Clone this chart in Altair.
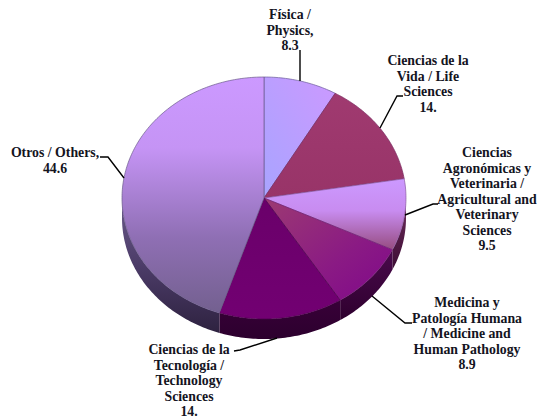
import math
import altair as alt
import pandas as pd

names = ["Física", "Vida", "Agronómicas", "Medicina", "Tecnología", "Otros"]
values = [8.3, 14.0, 9.5, 8.9, 14.0, 44.6]

top_stops = [
    [("#a8a4ff", 0), ("#cc99ff", 1)],
    [("#a03a70", 0), ("#983468", 1)],
    [("#cc99ff", 0), ("#c88cf0", .45), ("#964c80", 1)],
    [("#9c3a72", 0), ("#8a1a84", .6), ("#80088a", 1)],
    [("#6a006a", 0), ("#720072", 1)],
    [("#cc99ff", 0), ("#c594f5", .3), ("#8f6fb4", .68), ("#73608f", 1)],
]
top_dirs = [(0, 1, 1, 0), (0, 0, 0, 1), (0, 0, 0, 1), (0, 0, 1, 1), (0, 0, 0, 1), (0, 0, 0, 1)]
side_stops = [
    [("#555555", 0), ("#555555", 1)],
    [("#5c2040", 0), ("#5c2040", 1)],
    [("#6e2e5c", 0), ("#3c0c34", 1)],
    [("#4a0a4c", 0), ("#2e002e", 1)],
    [("#380038", 0), ("#2c002e", 1)],
    [("#6a5a8a", 0), ("#4c3c68", .5), ("#2e2240", 1)],
]
side_dirs = [(0, 0, 0, 1)] * 6
edge_colors = ["#6a5a9a", "#7a2a60", "#8a5aa0", "#6e1a6e", "#4a004a", "#6a5a8a"]

# labels, one text row per line
label_lines = [
    ["Física /", "Physics,", "8.3"],
    ["Ciencias de la", "Vida / Life", "Sciences", "14."],
    ["Ciencias", "Agronómicas y", "Veterinaria /", "Agricultural and", "Veterinary", "Sciences", "9.5"],
    ["Medicina y", "Patología Humana", "/ Medicine and", "Human Pathology", "8.9"],
    ["Ciencias de la", "Tecnología /", "Technology", "Sciences", "14."],
    ["Otros / Others,", "44.6"],
]
label_centres = [290, 428, 487, 467, 189, 55]
label_tops = [15, 61, 153, 303, 350, 153]
line_gap = 15.5
leaders = [
    [(300, 50), (300, 81)],
    [(403, 96), (397, 96), (380, 128)],
    [(438, 204), (433, 204), (405, 215)],
    [(412, 323), (405, 323), (372, 296)],
    [(234, 351), (240, 350), (277, 338)],
    [(100, 157), (108, 157), (124, 178)],
]

CX, CY, RX, RY, DEPTH = 264, 198, 142, 121, 20
W, H = 529, 410
total = sum(values)

x_scale = alt.Scale(domain=[8, 8 + W], range=[0, W], nice=False, zero=False)
y_scale = alt.Scale(domain=[8, 8 + H], range=[0, H], nice=False, zero=False)


def pt(deg, dy=0):
    t = math.radians(deg)
    return CX + RX * math.sin(t), CY - RY * math.cos(t) + dy


def arc(a, b):
    n = max(2, int(abs(b - a)) + 2)
    return [a + (b - a) * i / (n - 1) for i in range(n)]


def gradient(stops, d):
    return alt.LinearGradient(
        gradient="linear", x1=d[0], y1=d[1], x2=d[2], y2=d[3],
        stops=[alt.GradientStop(color=c, offset=o) for c, o in stops],
    )


def poly(points, fill, stroke=None, sw=0.7):
    df = pd.DataFrame(points, columns=["x", "y"])
    df["i"] = range(len(df))
    kw = {"fill": fill, "strokeWidth": sw, "clip": False}
    kw["stroke"] = stroke if stroke else "transparent"
    return alt.Chart(df).mark_line(**kw).encode(
        x=alt.X("x:Q", scale=x_scale, axis=None),
        y=alt.Y("y:Q", scale=y_scale, axis=None),
        order="i:Q",
    )


layers = []
bounds = []
acc = 0
for v in values:
    bounds.append((acc / total * 360, (acc + v) / total * 360))
    acc += v

for k, (a, b) in enumerate(bounds):
    lo, hi = max(a, 90), min(b, 270)
    if lo < hi:
        front = [pt(d) for d in arc(lo, hi)]
        back = [pt(d, DEPTH) for d in arc(hi, lo)]
        pts = front + back + [front[0]]
        layers.append(poly(pts, gradient(side_stops[k], side_dirs[k])))

for k, (a, b) in enumerate(bounds):
    pts = [(CX, CY)] + [pt(d) for d in arc(a, b)] + [(CX, CY)]
    layers.append(poly(pts, gradient(top_stops[k], top_dirs[k]), edge_colors[k]))

for seg in leaders:
    df = pd.DataFrame(seg, columns=["x", "y"])
    df["i"] = range(len(df))
    layers.append(
        alt.Chart(df).mark_line(color="#000000", strokeWidth=1.4).encode(
            x=alt.X("x:Q", scale=x_scale, axis=None),
            y=alt.Y("y:Q", scale=y_scale, axis=None),
            order="i:Q",
        )
    )

rows = []
for lines, cx, top in zip(label_lines, label_centres, label_tops):
    for j, line in enumerate(lines):
        rows.append({"t": line, "x": cx, "y": top + j * line_gap})
layers.append(
    alt.Chart(pd.DataFrame(rows)).mark_text(
        font="Liberation Serif", fontWeight="bold", fontSize=13.8, color="#14141e",
        align="center", baseline="middle",
    ).encode(
        x=alt.X("x:Q", scale=x_scale, axis=None),
        y=alt.Y("y:Q", scale=y_scale, axis=None),
        text="t:N",
    )
)

chart = alt.layer(*layers).properties(
    width=W, height=H, padding=0, background="#ffffff",
    autosize=alt.AutoSizeParams(type="none"),
).configure_view(stroke=None)

chart.save("out.html", embed_options={"renderer": "svg", "actions": False})
